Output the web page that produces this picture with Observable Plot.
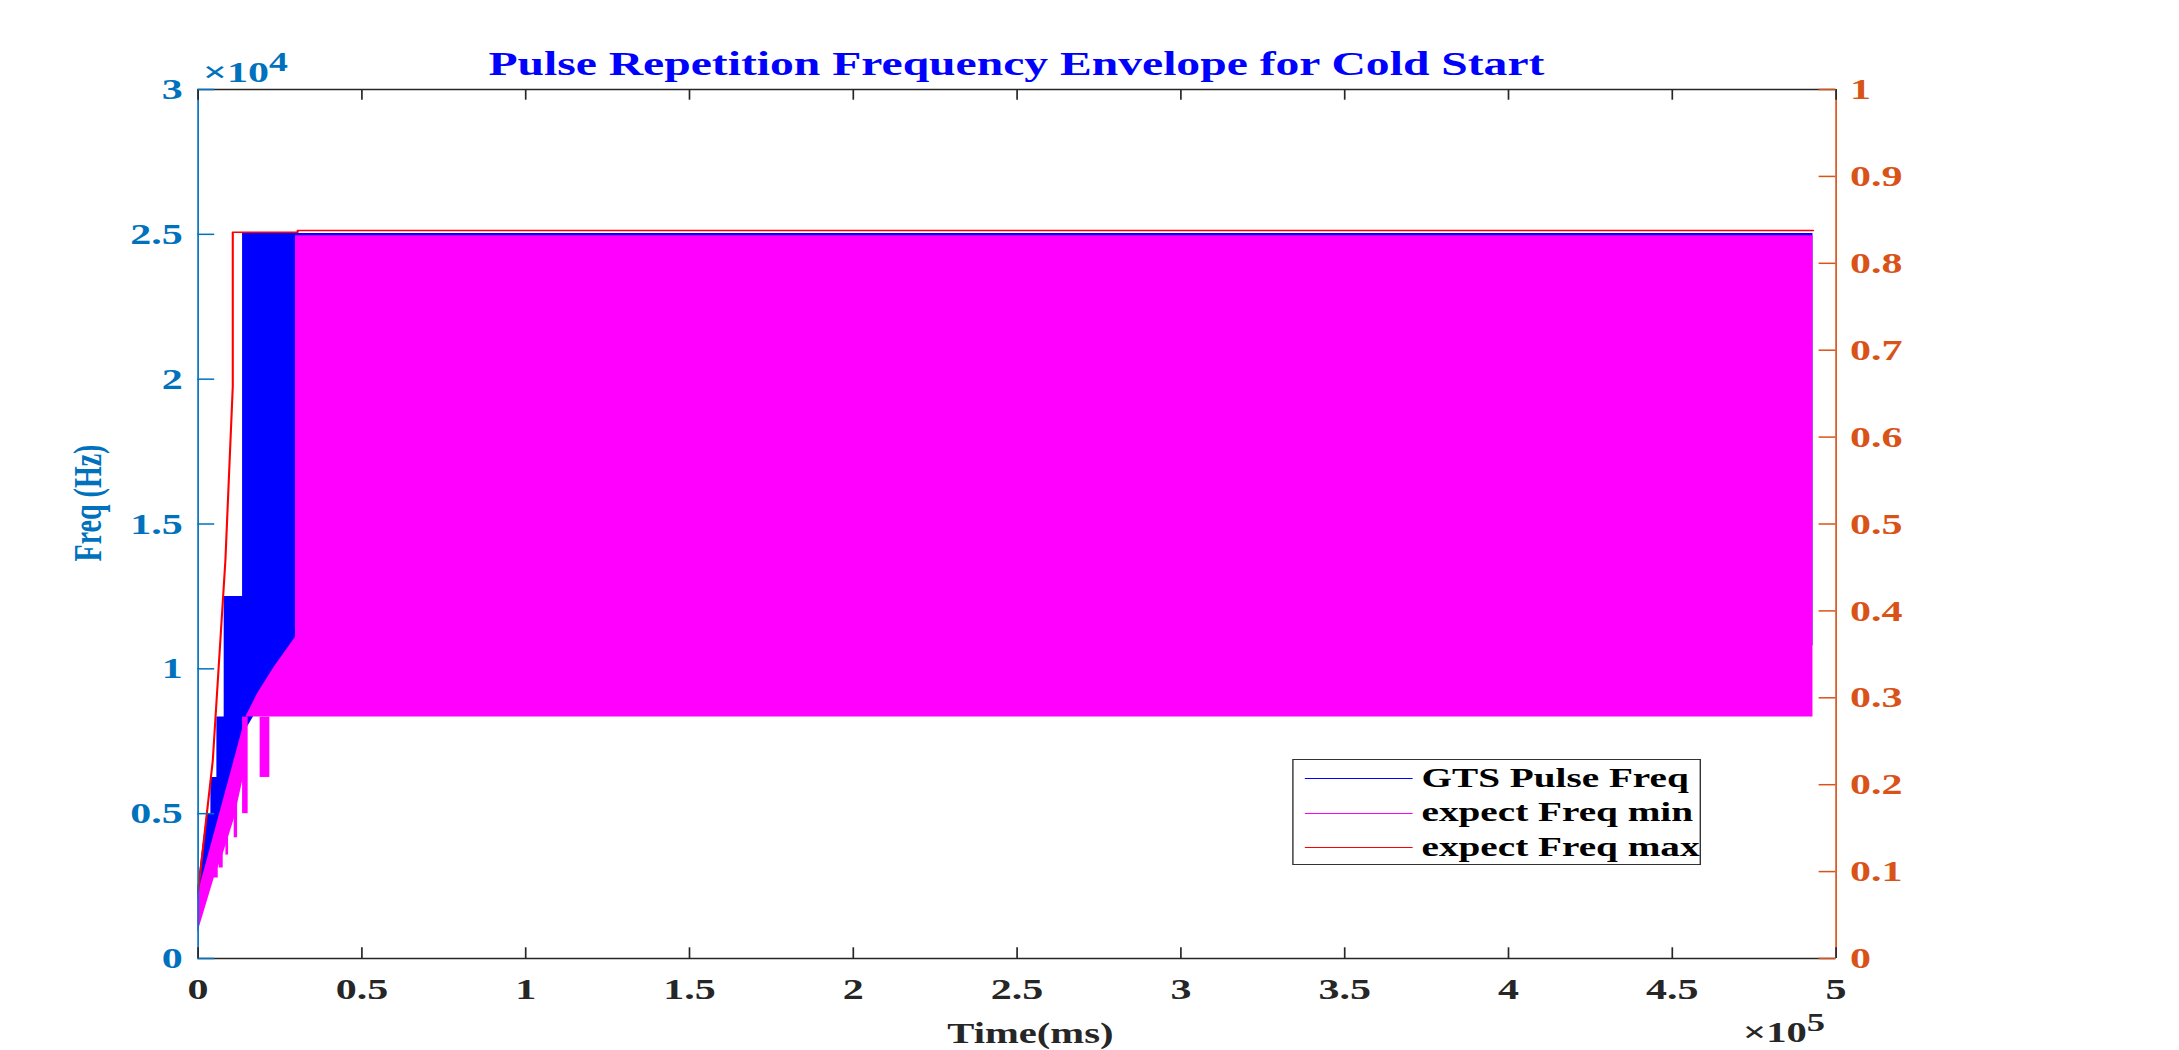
<!DOCTYPE html>
<html><head><meta charset="utf-8">
<script src="https://cdn.jsdelivr.net/npm/d3@7"></script>
<script src="https://cdn.jsdelivr.net/npm/@observablehq/plot@0.6"></script>
<style>
html,body{margin:0;padding:0;background:#fff;overflow:hidden;width:2179px;height:1050px;}
#stage{position:absolute;left:0;top:0;width:1557px;height:1050px;transform:scaleX(1.4);transform-origin:0 0;
  font-family:"Liberation Serif","Times New Roman",serif;font-weight:bold;}
#chart{position:absolute;left:0;top:0;}
.abs{position:absolute;white-space:nowrap;line-height:1;}
.sup{position:relative;top:-0.42em;font-size:0.9em;}
#legend{position:absolute;left:923.4px;top:759px;width:292px;height:106px;box-sizing:border-box;border:1px solid #333;background:#fff;}
.sw{position:absolute;left:7.3px;width:77px;height:0;}
.lt{position:absolute;left:91px;font-size:28px;line-height:1;color:#000;white-space:nowrap;}
</style></head><body>
<div id="stage">
  <div id="chart"></div>
  <div class="abs" id="title" style="left:226px;width:1000px;text-align:center;top:46.5px;font-size:34px;color:#0000FF;">Pulse Repetition Frequency Envelope for Cold Start</div>
  <div class="abs" style="left:145px;top:57px;font-size:30px;color:#0072BD;">×10<span class="sup">4</span></div>
  <div class="abs" style="left:1245px;top:1018px;font-size:29px;color:#262626;">×10<span class="sup">5</span></div>
  <div class="abs" style="left:536px;width:400px;text-align:center;top:1018.7px;font-size:29px;color:#262626;">Time(ms)</div>
  <div class="abs" style="left:63px;top:503px;transform:translate(-50%,-50%) rotate(-90deg);font-size:28px;color:#0072BD;">Freq (Hz)</div>
  <div id="legend">
    <div class="sw" style="top:18px;border-top:1.5px solid #0000FF;"></div>
    <div class="lt" style="top:4px;">GTS Pulse Freq</div>
    <div class="sw" style="top:52.5px;border-top:1.5px solid #FF00FF;"></div>
    <div class="lt" style="top:38.4px;">expect Freq min</div>
    <div class="sw" style="top:87px;border-top:1.5px solid #FF0000;"></div>
    <div class="lt" style="top:72.7px;">expect Freq max</div>
  </div>
</div>
<script>
// ---- tick values and labels ----
const xTickValues = [0, 50000, 100000, 150000, 200000, 250000, 300000, 350000, 400000, 450000, 500000];
const xTickLabels = ["0", "0.5", "1", "1.5", "2", "2.5", "3", "3.5", "4", "4.5", "5"];
const leftTickValues = [0, 5000, 10000, 15000, 20000, 25000, 30000];
const leftTickLabels = ["0", "0.5", "1", "1.5", "2", "2.5", "3"];
const rightTickValues = [0, 0.1, 0.2, 0.3, 0.4, 0.5, 0.6, 0.7, 0.8, 0.9, 1];
const rightTickLabels = ["0", "0.1", "0.2", "0.3", "0.4", "0.5", "0.6", "0.7", "0.8", "0.9", "1"];
const leftMax = 30000;
const rightMax = 1;
const xMax = 500000;

// ---- GTS Pulse Freq (dense oscillation drawn as its envelope band) ----
const gtsTime = [0, 2745, 3966, 3966, 5796, 5796, 8023, 8023, 13636, 13636, 29800, 493000];
const gtsHigh = [2450, 5000, 5000, 6250, 6250, 8333, 8333, 12500, 12500, 25030, 25030, 25030];
const gtsLow  = [2000, 3100, 3600, 3600, 4350, 4350, 5250, 5250, 7700, 7700, 10800, 10800];

// ---- expect Freq min (envelope band) ----
const minTime = [0, 5000, 8000, 11070, 14600, 14600, 18210, 23280, 29800, 29800, 493000];
const minHigh = [2230, 4310, 5560, 6835, 8330, 8330, 9137, 10056, 11091, 24950, 24950];
const minLow  = [900, 2780, 3700, 4800, 6600, 8333, 8333, 8333, 8333, 8333, 8333];

// ---- expect Freq min: downward excursions during start-up ----
const spikeStart  = [4980, 6500, 8540, 11080, 13640, 19000];
const spikeEnd    = [6200, 7720, 9360, 12110, 15340, 21960];
const spikeBottom = [2778, 3125, 3571, 4167, 5000, 6250];
const spikeTop    = [4300, 4900, 5800, 6900, 8333, 8333];

// ---- expect Freq max ----
const maxTime = [0, 4485, 8330, 10585, 10585, 30400, 30400, 493000];
const maxFreq = [2300, 6835, 13739, 19745, 25070, 25070, 25130, 25130];

const W = 1557, H = 1050, ML = 141, MR = 246, MT = 89, MB = 92;
const plotW = W - ML - MR, plotH = H - MT - MB;
const xTickLen = 10.7, yTickLen = 12;
const font = {fontFamily: "Liberation Serif", fontWeight: "bold", fontSize: 30};

const chart = Plot.plot({
  width: W, height: H,
  marginLeft: ML, marginRight: MR, marginTop: MT, marginBottom: MB,
  x: {domain: [0, xMax], axis: null},
  y: {domain: [0, leftMax], axis: null},
  style: {fontFamily: "'Liberation Serif', serif", fontWeight: "bold", background: "transparent", overflow: "visible"},
  marks: [
    Plot.areaY(gtsTime, {x: gtsTime, y1: gtsLow, y2: gtsHigh, fill: "#0000FF"}),
    Plot.areaY(minTime, {x: minTime, y1: minLow, y2: minHigh, fill: "#FF00FF"}),
    Plot.rect(spikeStart, {x1: spikeStart, x2: spikeEnd, y1: spikeBottom, y2: spikeTop, fill: "#FF00FF"}),
    Plot.line(maxTime, {x: maxTime, y: maxFreq, stroke: "#FF0000", strokeWidth: 1.5}),
    // box
    Plot.ruleY([0, leftMax], {stroke: "#262626", strokeWidth: 1.5}),
    Plot.ruleX([0], {stroke: "#0072BD", strokeWidth: 1.2}),
    Plot.ruleX([xMax], {stroke: "#D95319", strokeWidth: 1.2}),
    // inward ticks
    Plot.ruleX(xTickValues, {x: d => d, insetTop: plotH - xTickLen, stroke: "#262626", strokeWidth: 1.2}),
    Plot.ruleX(xTickValues, {x: d => d, insetBottom: plotH - xTickLen, stroke: "#262626", strokeWidth: 1.2}),
    Plot.ruleY(leftTickValues, {y: d => d, insetRight: plotW - yTickLen, stroke: "#0072BD", strokeWidth: 1.5}),
    Plot.ruleY(rightTickValues, {y: d => d / rightMax * leftMax, insetLeft: plotW - yTickLen, stroke: "#D95319", strokeWidth: 1.5}),
    // tick labels
    Plot.text(xTickValues, {x: d => d, text: (d, i) => xTickLabels[i], frameAnchor: "bottom", lineAnchor: "top", dy: 19, fill: "#262626", ...font}),
    Plot.text(leftTickValues, {y: d => d, text: (d, i) => leftTickLabels[i], frameAnchor: "left", textAnchor: "end", dx: -11, fill: "#0072BD", ...font}),
    Plot.text(rightTickValues, {y: d => d / rightMax * leftMax, text: (d, i) => rightTickLabels[i], frameAnchor: "right", textAnchor: "start", dx: 10, fill: "#D95319", ...font})
  ]
});
document.getElementById("chart").appendChild(chart);
</script>
</body></html>
